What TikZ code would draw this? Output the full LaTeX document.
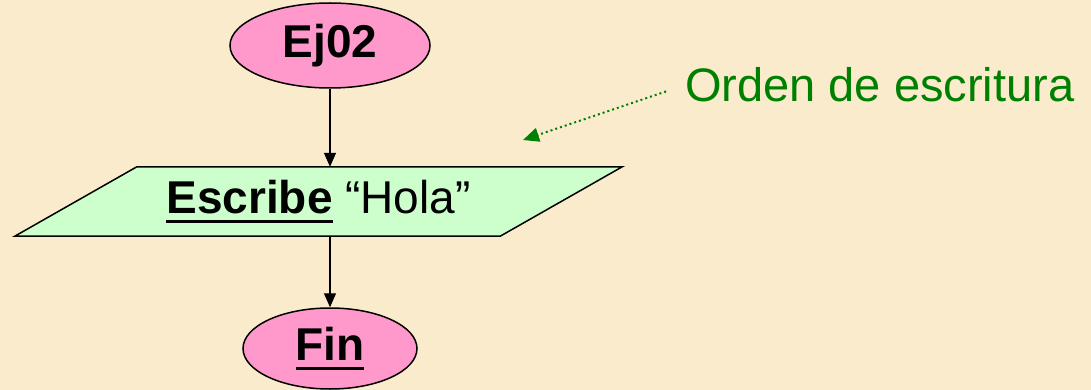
\documentclass[tikz,border=0pt]{standalone}
\usepackage{fontspec}
\setmainfont{Liberation Sans}
\usetikzlibrary{shapes.geometric, positioning, arrows.meta, backgrounds}

\definecolor{fondo}{RGB}{250,235,205}
\definecolor{rosa}{RGB}{255,153,204}
\definecolor{verdeclaro}{RGB}{204,255,204}
\definecolor{verdeosc}{RGB}{0,128,0}

\newcommand{\subr}[1]{\setbox0\hbox{#1}\rlap{\rule[-0.2em]{\wd0}{0.065em}}\box0}

\begin{document}
\begin{tikzpicture}[x=1pt, y=-1pt, on grid, >={Triangle[length=14pt,width=12pt]}]
        \tikzset{
            terminal/.style={ellipse, draw, line width=1.5pt, fill=rosa, inner sep=0pt, font=\fontsize{46}{50}\selectfont\bfseries},
            entrada/.style={rectangle, minimum height=69pt, minimum width=363pt, inner sep=0pt, font=\fontsize{46}{50}\selectfont},
            flecha/.style={->, line width=1.3pt}
        }
        
        % Bloques
        \node[terminal, minimum width=200pt, minimum height=85pt] (ej) at (330,45.5) {Ej02};
        \node[entrada] (esc) [below=156pt of ej, xshift=-11.5pt] {\textbf{\subr{Escribe}} “Hola”};
        \node[terminal, minimum width=174pt, minimum height=81pt] (fin) [below=147pt of esc, xshift=11.5pt] {\subr{Fin}};
        \node[text=verdeosc, font=\fontsize{47}{50}\selectfont, anchor=west, inner sep=0pt] (orden) at (685,85) {Orden de escritura};
        \coordinate (punta) at (523,140);
        
        % Fondo y paralelogramo
        \begin{scope}[on background layer]
            \fill[fondo] (0,0) rectangle (1091,390);
            \filldraw[fill=verdeclaro, line width=1.5pt, line join=miter]
                ([xshift=-122pt]esc.south west) -- (esc.north west) -- ([xshift=122pt]esc.north east) -- (esc.south east) -- cycle;
        \end{scope}
        \useasboundingbox (0,0) rectangle (1091,390);
        
        % Flechas
        \draw[flecha] (ej) -- (ej |- esc.north);
        \draw[flecha] (fin |- esc.south) -- (fin);
        \draw[->, verdeosc, line width=2pt, dash pattern=on 2pt off 3pt, shorten <=20pt, >={Triangle[length=16pt,width=14pt]}] (orden.west) -- (punta);
\end{tikzpicture}
\end{document}
